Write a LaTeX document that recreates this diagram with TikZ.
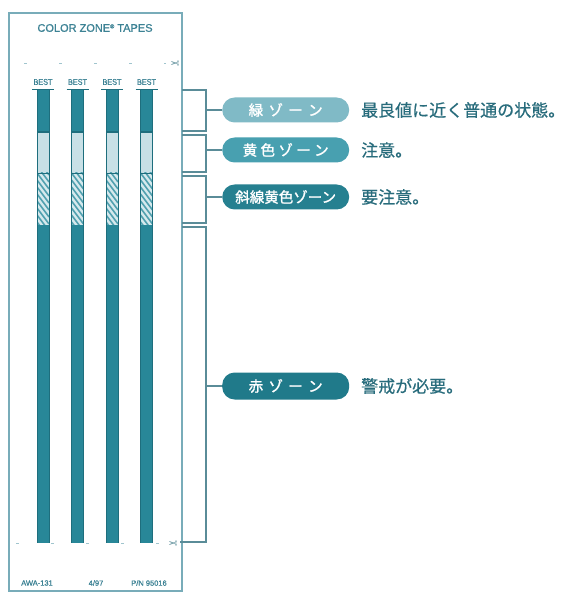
\documentclass[tikz,border=0pt]{standalone}
\usepackage{fontspec}
\setmainfont{Liberation Sans}
\newfontfamily\jp{Noto Sans CJK JP}[FakeBold=0.5]
\newfontfamily\jpb{Noto Sans CJK JP}[FakeBold=1.5]
\newfontfamily\dejavu{DejaVu Sans}
\newfontfamily\lsb{Liberation Sans}[FakeBold=0.8]
\definecolor{cardline}{RGB}{120,172,185}
\definecolor{tapedark}{RGB}{40,135,152}
\definecolor{tapeedge}{RGB}{30,110,125}
\definecolor{tapelight}{RGB}{200,224,230}
\definecolor{hatchbg}{RGB}{214,233,237}
\definecolor{hatchline}{RGB}{80,160,175}
\definecolor{brack}{RGB}{90,140,152}
\definecolor{pillA}{RGB}{128,186,198}
\definecolor{pillB}{RGB}{72,160,176}
\definecolor{pillC}{RGB}{38,128,144}
\definecolor{pillD}{RGB}{32,122,138}
\definecolor{desc}{RGB}{40,108,124}
\definecolor{titlec}{RGB}{60,130,148}
\tikzset{
  pill/.style={rounded corners=12.5pt, minimum width=127pt, minimum height=25pt,
    text=white, font=\jpb\fontsize{14.5}{14.5}\selectfont, inner sep=0pt, anchor=west},
  descr/.style={anchor=west, text=desc, font=\jp\fontsize{17}{17}\selectfont, inner sep=0pt},
  brk/.style={draw=brack, line width=1.2pt},
  small/.style={text=titlec, inner sep=0pt, font=\lsb\fontsize{7.5}{7.5}\selectfont},
  cutline/.style={draw=cardline!70, line width=0.8pt, dash pattern=on 3pt off 32pt},
  scis/.style={text=brack, inner sep=0pt, font=\dejavu\fontsize{11}{11}\selectfont, rotate=180}
}
\begin{document}
\begin{tikzpicture}[x=1pt,y=-1pt]
\useasboundingbox (0,0) rectangle (572,593);
\fill[white] (0,0) rectangle (572,593);
% card
\draw[cardline, line width=2.5pt] (9,13) rectangle (182,591);
\node[text=titlec, inner sep=0pt, font=\lsb\fontsize{11}{11}\selectfont] (title) at (95,28)
  {COLOR ZONE\raisebox{3.5pt}{\fontsize{5.5}{5.5}\selectfont ®} TAPES};
% cut lines
\draw[cutline] (24,63) -- (166,63);
\node[scis] (sc1) at (175,63) {✂};
\draw[cutline] (16,543) -- (164,543);
\node[scis] (sc2) at (173,543) {✂};
% tapes
\foreach \i/\x in {1/43,2/77.5,3/112,4/146.5}{
  \node[text=titlec, inner sep=0pt, font=\lsb\fontsize{8.5}{8.5}\selectfont] (best\i) at (\x,82) {\scalebox{0.85}[1]{BEST}};
  % green zone
  \fill[tapedark] (\x-6,90) rectangle (\x+6,132);
  % light zone
  \fill[tapelight] (\x-6,132) rectangle (\x+6,173);
  % hatched zone
  \fill[hatchbg] (\x-6,173) rectangle (\x+6,225);
  \begin{scope}
    \clip (\x-6,173) rectangle (\x+6,225);
    \foreach \k in {-21,-14,...,56}{
      \draw[hatchline, line width=1.6pt] (\x-6,173+\k) -- (\x+6,173+\k+16);
    }
  \end{scope}
  % red zone
  \fill[tapedark] (\x-6,225) rectangle (\x+6,543);
  % edges and boundaries
  \draw[tapeedge, line width=0.5pt] (\x-6,90) -- (\x-6,543) (\x+6,90) -- (\x+6,543);
  \draw[tapeedge, line width=1.2pt] (\x-6,132) -- (\x+6,132);
  \draw[tapeedge, line width=1.2pt] (\x-6,173.5) -- (\x+6,173.5);
  \draw[tapeedge, line width=1.8pt] (\x-11,89.5) -- (\x+11,89.5);
}
% brackets
\coordinate (bx) at (206,0);
\draw[brk] (182,90) -- (206,90) -- (206,131) -- (182,131);
\draw[brk] (182,135) -- (206,135) -- (206,172) -- (182,172);
\draw[brk] (182,176) -- (206,176) -- (206,223) -- (182,223);
\draw[brk] (182,227) -- (206,227) -- (206,542) -- (180,542);
% pills
\node[pill, fill=pillA] (p1) at (222,110) {\makebox[74pt][s]{緑\hfil ゾ\hfil ー\hfil ン}};
\node[pill, fill=pillB] (p2) at (222,150) {\makebox[86pt][s]{黄\hfil 色\hfil ゾ\hfil ー\hfil ン}};
\node[pill, fill=pillC] (p3) at (222,197) {斜線黄色ゾーン};
\node[pill, fill=pillD, minimum height=27pt] (p4) at (222,386) {\makebox[74pt][s]{赤\hfil ゾ\hfil ー\hfil ン}};
\foreach \p in {p1,p2,p3,p4}{
  \draw[brk] (\p.west -| bx) -- (\p.west);
}
% descriptions
\node[descr] (d1) at (361,110) {最良値に近く普通の状態。};
\node[descr] (d2) at (361,150) {注意。};
\node[descr] (d3) at (361,197) {要注意。};
\node[descr] (d4) at (361,386) {警戒が必要。};
% bottom texts
\node[small] (t1) at (37,583) {AWA-131};
\node[small] (t2) at (96,583) {4/97};
\node[small] (t3) at (149,583) {P/N 95016};
\end{tikzpicture}
\end{document}
